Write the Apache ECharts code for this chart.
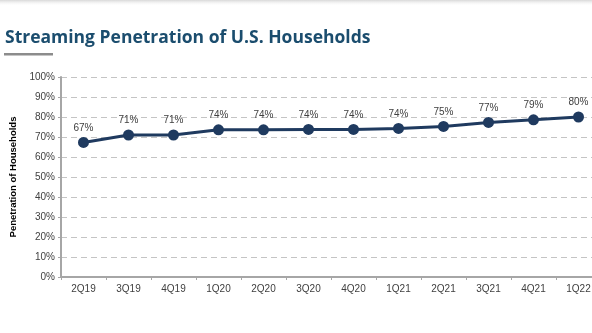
<!DOCTYPE html>
<html><head><meta charset="utf-8">
<script src="https://cdn.jsdelivr.net/npm/echarts@6/dist/echarts.min.js"></script>
<style>html,body{margin:0;padding:0;background:#fff;overflow:hidden;width:592px;height:333px}#c{width:610px;height:333px}</style>
</head><body><div id="c"></div>
<script>
const categories = ['2Q19','3Q19','4Q19','1Q20','2Q20','3Q20','4Q20','1Q21','2Q21','3Q21','4Q21','1Q22'];
const penetration = [67.3, 71.0, 71.0, 73.6, 73.6, 73.8, 73.8, 74.3, 75.3, 77.3, 78.6, 80.0];
const pointLabels = ['67%','71%','71%','74%','74%','74%','74%','74%','75%','77%','79%','80%'];
const yTicks = [0,10,20,30,40,50,60,70,80,90,100];

const chart = echarts.init(document.getElementById('c'));
chart.setOption({
  animation: false,
  backgroundColor: '#fff',
  graphic: [
    { type: 'rect', left: 0, top: 0, shape: { width: 610, height: 6 },
      style: { fill: new echarts.graphic.LinearGradient(0,0,0,1,[{offset:0,color:'#d8d8d8'},{offset:1,color:'rgba(255,255,255,0)'}]) } },
    { type: 'text', left: 5, top: 29, style: { text: 'Streaming Penetration of U.S. Households', font: 'bold 17.5px "Open Sans"', fill: '#1b4d6e' } },
    { type: 'rect', left: 4, top: 53, shape: { width: 49, height: 2.5 }, style: { fill: '#8c8c8c' } }
  ],
  grid: { left: 61, right: 9, top: 77, bottom: 56 },
  xAxis: {
    type: 'category', data: categories, boundaryGap: true,
    axisLine: { lineStyle: { color: '#a6a6a6', width: 2 } },
    axisTick: { show: true, length: 3, lineStyle: { color: '#a6a6a6' } },
    axisLabel: { color: '#404040', fontFamily: 'Liberation Sans', fontSize: 10, margin: 7 }
  },
  yAxis: {
    type: 'value', min: 0, max: 100, interval: 10,
    name: 'Penetration of Households', nameLocation: 'middle', nameGap: 34, nameRotate: 90,
    nameTextStyle: { fontFamily: 'Liberation Sans', fontWeight: 'bold', fontSize: 9.5, color: '#000' },
    axisLine: { show: true, lineStyle: { color: '#a6a6a6', width: 2 } },
    axisTick: { show: true, length: 3, lineStyle: { color: '#a6a6a6' } },
    axisLabel: { color: '#404040', fontFamily: 'Liberation Sans', fontSize: 10, margin: 6,
      formatter: v => yTicks.includes(v) ? v + '%' : '' },
    splitLine: { show: true, lineStyle: { color: '#c4c4c4', type: [6, 4], width: 1.2 } }
  },
  series: [{
    type: 'line', data: penetration,
    symbol: 'circle', symbolSize: 11,
    lineStyle: { color: '#1f3a5f', width: 3 },
    itemStyle: { color: '#1f3a5f' },
    label: { show: true, position: 'top', distance: 4, color: '#404040', fontFamily: 'Liberation Sans', fontSize: 10,
      formatter: p => pointLabels[p.dataIndex] }
  }]
});
</script></body></html>
